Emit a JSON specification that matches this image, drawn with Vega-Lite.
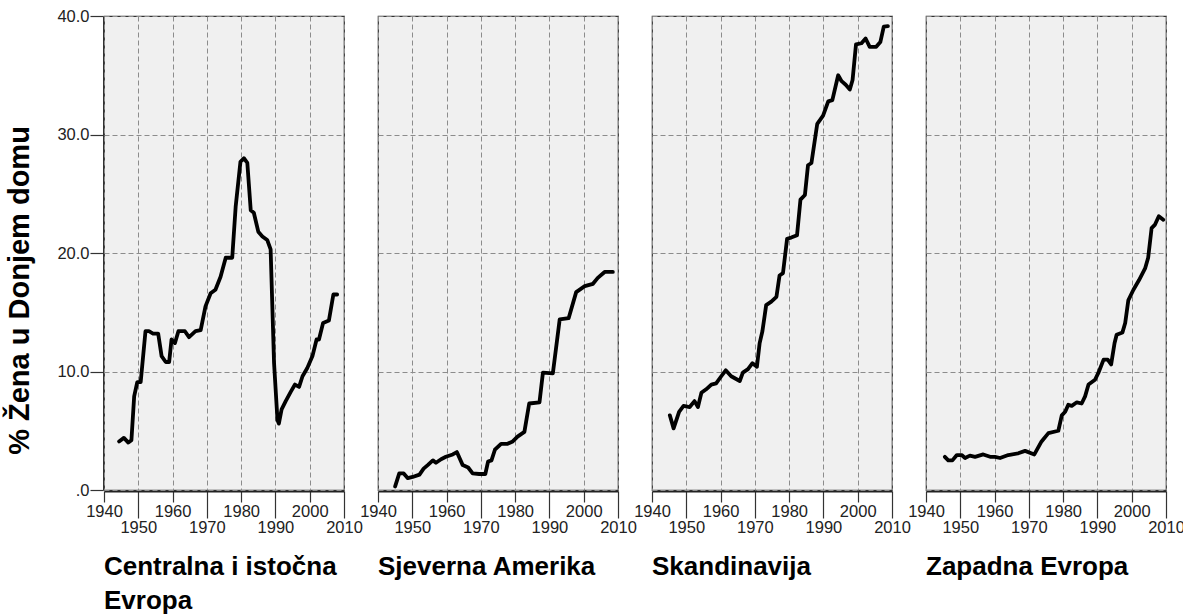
{
  "$schema": "https://vega.github.io/schema/vega-lite/v6.json",
  "background": "white",
  "padding": {"left": 5, "top": 8, "right": 5, "bottom": 0},
  "config": {
    "font": "Liberation Sans",
    "view": {"fill": "#f0f0f0", "stroke": "#333333", "strokeWidth": 1.2}
  },
  "data": {"values": [
    {"region": "Centralna i istočna Evropa", "year": 1944.4, "pct": 4.1},
    {"region": "Centralna i istočna Evropa", "year": 1945.8, "pct": 4.4},
    {"region": "Centralna i istočna Evropa", "year": 1947.1, "pct": 4.0},
    {"region": "Centralna i istočna Evropa", "year": 1948.0, "pct": 4.2},
    {"region": "Centralna i istočna Evropa", "year": 1948.8, "pct": 7.9},
    {"region": "Centralna i istočna Evropa", "year": 1949.7, "pct": 9.1},
    {"region": "Centralna i istočna Evropa", "year": 1950.7, "pct": 9.1},
    {"region": "Centralna i istočna Evropa", "year": 1952.1, "pct": 13.4},
    {"region": "Centralna i istočna Evropa", "year": 1953.1, "pct": 13.4},
    {"region": "Centralna i istočna Evropa", "year": 1954.3, "pct": 13.2},
    {"region": "Centralna i istočna Evropa", "year": 1955.8, "pct": 13.2},
    {"region": "Centralna i istočna Evropa", "year": 1956.8, "pct": 11.3},
    {"region": "Centralna i istočna Evropa", "year": 1958.0, "pct": 10.8},
    {"region": "Centralna i istočna Evropa", "year": 1959.0, "pct": 10.8},
    {"region": "Centralna i istočna Evropa", "year": 1959.7, "pct": 12.7},
    {"region": "Centralna i istočna Evropa", "year": 1960.7, "pct": 12.4},
    {"region": "Centralna i istočna Evropa", "year": 1961.7, "pct": 13.4},
    {"region": "Centralna i istočna Evropa", "year": 1963.6, "pct": 13.4},
    {"region": "Centralna i istočna Evropa", "year": 1964.8, "pct": 12.9},
    {"region": "Centralna i istočna Evropa", "year": 1966.7, "pct": 13.4},
    {"region": "Centralna i istočna Evropa", "year": 1968.2, "pct": 13.5},
    {"region": "Centralna i istočna Evropa", "year": 1969.6, "pct": 15.5},
    {"region": "Centralna i istočna Evropa", "year": 1971.1, "pct": 16.6},
    {"region": "Centralna i istočna Evropa", "year": 1972.5, "pct": 16.9},
    {"region": "Centralna i istočna Evropa", "year": 1974.0, "pct": 18.0},
    {"region": "Centralna i istočna Evropa", "year": 1975.5, "pct": 19.6},
    {"region": "Centralna i istočna Evropa", "year": 1977.4, "pct": 19.6},
    {"region": "Centralna i istočna Evropa", "year": 1978.4, "pct": 23.9},
    {"region": "Centralna i istočna Evropa", "year": 1979.8, "pct": 27.7},
    {"region": "Centralna i istočna Evropa", "year": 1980.8, "pct": 28.0},
    {"region": "Centralna i istočna Evropa", "year": 1981.8, "pct": 27.6},
    {"region": "Centralna i istočna Evropa", "year": 1982.8, "pct": 23.6},
    {"region": "Centralna i istočna Evropa", "year": 1983.7, "pct": 23.4},
    {"region": "Centralna i istočna Evropa", "year": 1985.0, "pct": 21.8},
    {"region": "Centralna i istočna Evropa", "year": 1986.2, "pct": 21.4},
    {"region": "Centralna i istočna Evropa", "year": 1987.6, "pct": 21.1},
    {"region": "Centralna i istočna Evropa", "year": 1988.6, "pct": 20.3},
    {"region": "Centralna i istočna Evropa", "year": 1989.6, "pct": 10.7},
    {"region": "Centralna i istočna Evropa", "year": 1990.6, "pct": 5.9},
    {"region": "Centralna i istočna Evropa", "year": 1991.0, "pct": 5.6},
    {"region": "Centralna i istočna Evropa", "year": 1991.8, "pct": 6.8},
    {"region": "Centralna i istočna Evropa", "year": 1993.0, "pct": 7.5},
    {"region": "Centralna i istočna Evropa", "year": 1994.5, "pct": 8.3},
    {"region": "Centralna i istočna Evropa", "year": 1995.7, "pct": 8.9},
    {"region": "Centralna i istočna Evropa", "year": 1996.9, "pct": 8.7},
    {"region": "Centralna i istočna Evropa", "year": 1997.9, "pct": 9.6},
    {"region": "Centralna i istočna Evropa", "year": 1999.3, "pct": 10.3},
    {"region": "Centralna i istočna Evropa", "year": 2000.8, "pct": 11.3},
    {"region": "Centralna i istočna Evropa", "year": 2002.0, "pct": 12.7},
    {"region": "Centralna i istočna Evropa", "year": 2002.7, "pct": 12.7},
    {"region": "Centralna i istočna Evropa", "year": 2003.9, "pct": 14.1},
    {"region": "Centralna i istočna Evropa", "year": 2005.6, "pct": 14.3},
    {"region": "Centralna i istočna Evropa", "year": 2006.9, "pct": 16.5},
    {"region": "Centralna i istočna Evropa", "year": 2008.0, "pct": 16.5},

    {"region": "Sjeverna Amerika", "year": 1945.0, "pct": 0.3},
    {"region": "Sjeverna Amerika", "year": 1946.2, "pct": 1.4},
    {"region": "Sjeverna Amerika", "year": 1947.5, "pct": 1.4},
    {"region": "Sjeverna Amerika", "year": 1948.7, "pct": 1.0},
    {"region": "Sjeverna Amerika", "year": 1950.1, "pct": 1.1},
    {"region": "Sjeverna Amerika", "year": 1952.1, "pct": 1.3},
    {"region": "Sjeverna Amerika", "year": 1953.3, "pct": 1.8},
    {"region": "Sjeverna Amerika", "year": 1954.5, "pct": 2.1},
    {"region": "Sjeverna Amerika", "year": 1956.0, "pct": 2.5},
    {"region": "Sjeverna Amerika", "year": 1956.9, "pct": 2.3},
    {"region": "Sjeverna Amerika", "year": 1958.4, "pct": 2.6},
    {"region": "Sjeverna Amerika", "year": 1959.8, "pct": 2.8},
    {"region": "Sjeverna Amerika", "year": 1961.8, "pct": 3.0},
    {"region": "Sjeverna Amerika", "year": 1963.0, "pct": 3.2},
    {"region": "Sjeverna Amerika", "year": 1964.7, "pct": 2.1},
    {"region": "Sjeverna Amerika", "year": 1966.3, "pct": 1.9},
    {"region": "Sjeverna Amerika", "year": 1967.6, "pct": 1.4},
    {"region": "Sjeverna Amerika", "year": 1969.5, "pct": 1.35},
    {"region": "Sjeverna Amerika", "year": 1971.3, "pct": 1.35},
    {"region": "Sjeverna Amerika", "year": 1972.1, "pct": 2.4},
    {"region": "Sjeverna Amerika", "year": 1973.1, "pct": 2.5},
    {"region": "Sjeverna Amerika", "year": 1974.1, "pct": 3.4},
    {"region": "Sjeverna Amerika", "year": 1975.9, "pct": 3.9},
    {"region": "Sjeverna Amerika", "year": 1977.8, "pct": 3.9},
    {"region": "Sjeverna Amerika", "year": 1979.3, "pct": 4.1},
    {"region": "Sjeverna Amerika", "year": 1980.7, "pct": 4.5},
    {"region": "Sjeverna Amerika", "year": 1982.7, "pct": 4.9},
    {"region": "Sjeverna Amerika", "year": 1984.1, "pct": 7.3},
    {"region": "Sjeverna Amerika", "year": 1987.1, "pct": 7.4},
    {"region": "Sjeverna Amerika", "year": 1988.1, "pct": 9.9},
    {"region": "Sjeverna Amerika", "year": 1991.0, "pct": 9.85},
    {"region": "Sjeverna Amerika", "year": 1993.0, "pct": 14.4},
    {"region": "Sjeverna Amerika", "year": 1995.6, "pct": 14.5},
    {"region": "Sjeverna Amerika", "year": 1997.8, "pct": 16.7},
    {"region": "Sjeverna Amerika", "year": 2000.3, "pct": 17.2},
    {"region": "Sjeverna Amerika", "year": 2002.7, "pct": 17.4},
    {"region": "Sjeverna Amerika", "year": 2004.1, "pct": 17.9},
    {"region": "Sjeverna Amerika", "year": 2006.1, "pct": 18.4},
    {"region": "Sjeverna Amerika", "year": 2008.5, "pct": 18.4},

    {"region": "Skandinavija", "year": 1945.2, "pct": 6.3},
    {"region": "Skandinavija", "year": 1946.3, "pct": 5.2},
    {"region": "Skandinavija", "year": 1947.9, "pct": 6.6},
    {"region": "Skandinavija", "year": 1949.2, "pct": 7.1},
    {"region": "Skandinavija", "year": 1951.0, "pct": 7.0},
    {"region": "Skandinavija", "year": 1952.4, "pct": 7.5},
    {"region": "Skandinavija", "year": 1953.4, "pct": 7.0},
    {"region": "Skandinavija", "year": 1954.4, "pct": 8.2},
    {"region": "Skandinavija", "year": 1955.8, "pct": 8.5},
    {"region": "Skandinavija", "year": 1957.3, "pct": 8.9},
    {"region": "Skandinavija", "year": 1958.7, "pct": 9.0},
    {"region": "Skandinavija", "year": 1960.2, "pct": 9.6},
    {"region": "Skandinavija", "year": 1961.5, "pct": 10.1},
    {"region": "Skandinavija", "year": 1963.1, "pct": 9.6},
    {"region": "Skandinavija", "year": 1965.6, "pct": 9.2},
    {"region": "Skandinavija", "year": 1966.5, "pct": 9.9},
    {"region": "Skandinavija", "year": 1968.0, "pct": 10.2},
    {"region": "Skandinavija", "year": 1969.3, "pct": 10.7},
    {"region": "Skandinavija", "year": 1970.6, "pct": 10.4},
    {"region": "Skandinavija", "year": 1971.4, "pct": 12.4},
    {"region": "Skandinavija", "year": 1972.2, "pct": 13.4},
    {"region": "Skandinavija", "year": 1973.3, "pct": 15.6},
    {"region": "Skandinavija", "year": 1974.8, "pct": 15.9},
    {"region": "Skandinavija", "year": 1976.3, "pct": 16.3},
    {"region": "Skandinavija", "year": 1977.2, "pct": 18.1},
    {"region": "Skandinavija", "year": 1978.2, "pct": 18.3},
    {"region": "Skandinavija", "year": 1979.4, "pct": 21.2},
    {"region": "Skandinavija", "year": 1980.6, "pct": 21.3},
    {"region": "Skandinavija", "year": 1982.3, "pct": 21.5},
    {"region": "Skandinavija", "year": 1983.3, "pct": 24.5},
    {"region": "Skandinavija", "year": 1984.6, "pct": 24.9},
    {"region": "Skandinavija", "year": 1985.5, "pct": 27.4},
    {"region": "Skandinavija", "year": 1986.5, "pct": 27.6},
    {"region": "Skandinavija", "year": 1988.2, "pct": 30.9},
    {"region": "Skandinavija", "year": 1989.9, "pct": 31.6},
    {"region": "Skandinavija", "year": 1991.4, "pct": 32.8},
    {"region": "Skandinavija", "year": 1992.6, "pct": 32.9},
    {"region": "Skandinavija", "year": 1994.3, "pct": 35.0},
    {"region": "Skandinavija", "year": 1995.3, "pct": 34.5},
    {"region": "Skandinavija", "year": 1996.5, "pct": 34.2},
    {"region": "Skandinavija", "year": 1997.7, "pct": 33.8},
    {"region": "Skandinavija", "year": 1998.5, "pct": 34.6},
    {"region": "Skandinavija", "year": 1999.5, "pct": 37.6},
    {"region": "Skandinavija", "year": 2001.1, "pct": 37.7},
    {"region": "Skandinavija", "year": 2002.3, "pct": 38.1},
    {"region": "Skandinavija", "year": 2003.5, "pct": 37.4},
    {"region": "Skandinavija", "year": 2005.4, "pct": 37.4},
    {"region": "Skandinavija", "year": 2006.6, "pct": 37.8},
    {"region": "Skandinavija", "year": 2007.6, "pct": 39.1},
    {"region": "Skandinavija", "year": 2008.8, "pct": 39.15},

    {"region": "Zapadna Evropa", "year": 1945.5, "pct": 2.8},
    {"region": "Zapadna Evropa", "year": 1946.5, "pct": 2.5},
    {"region": "Zapadna Evropa", "year": 1947.7, "pct": 2.5},
    {"region": "Zapadna Evropa", "year": 1949.0, "pct": 2.95},
    {"region": "Zapadna Evropa", "year": 1950.4, "pct": 2.95},
    {"region": "Zapadna Evropa", "year": 1951.4, "pct": 2.7},
    {"region": "Zapadna Evropa", "year": 1952.8, "pct": 2.9},
    {"region": "Zapadna Evropa", "year": 1954.3, "pct": 2.8},
    {"region": "Zapadna Evropa", "year": 1956.7, "pct": 3.0},
    {"region": "Zapadna Evropa", "year": 1958.7, "pct": 2.8},
    {"region": "Zapadna Evropa", "year": 1960.1, "pct": 2.8},
    {"region": "Zapadna Evropa", "year": 1961.6, "pct": 2.7},
    {"region": "Zapadna Evropa", "year": 1964.0, "pct": 2.95},
    {"region": "Zapadna Evropa", "year": 1966.9, "pct": 3.1},
    {"region": "Zapadna Evropa", "year": 1968.9, "pct": 3.3},
    {"region": "Zapadna Evropa", "year": 1971.6, "pct": 3.0},
    {"region": "Zapadna Evropa", "year": 1973.7, "pct": 4.1},
    {"region": "Zapadna Evropa", "year": 1975.7, "pct": 4.8},
    {"region": "Zapadna Evropa", "year": 1978.6, "pct": 5.0},
    {"region": "Zapadna Evropa", "year": 1979.6, "pct": 6.3},
    {"region": "Zapadna Evropa", "year": 1980.6, "pct": 6.6},
    {"region": "Zapadna Evropa", "year": 1981.5, "pct": 7.2},
    {"region": "Zapadna Evropa", "year": 1982.5, "pct": 7.1},
    {"region": "Zapadna Evropa", "year": 1984.0, "pct": 7.4},
    {"region": "Zapadna Evropa", "year": 1985.4, "pct": 7.3},
    {"region": "Zapadna Evropa", "year": 1986.4, "pct": 7.9},
    {"region": "Zapadna Evropa", "year": 1987.4, "pct": 8.9},
    {"region": "Zapadna Evropa", "year": 1989.3, "pct": 9.3},
    {"region": "Zapadna Evropa", "year": 1990.3, "pct": 9.9},
    {"region": "Zapadna Evropa", "year": 1991.8, "pct": 11.0},
    {"region": "Zapadna Evropa", "year": 1993.0, "pct": 11.0},
    {"region": "Zapadna Evropa", "year": 1994.0, "pct": 10.6},
    {"region": "Zapadna Evropa", "year": 1995.0, "pct": 12.4},
    {"region": "Zapadna Evropa", "year": 1995.6, "pct": 13.1},
    {"region": "Zapadna Evropa", "year": 1997.3, "pct": 13.3},
    {"region": "Zapadna Evropa", "year": 1998.1, "pct": 14.1},
    {"region": "Zapadna Evropa", "year": 1999.0, "pct": 16.0},
    {"region": "Zapadna Evropa", "year": 2000.5, "pct": 16.9},
    {"region": "Zapadna Evropa", "year": 2002.1, "pct": 17.7},
    {"region": "Zapadna Evropa", "year": 2003.9, "pct": 18.7},
    {"region": "Zapadna Evropa", "year": 2004.8, "pct": 19.6},
    {"region": "Zapadna Evropa", "year": 2005.8, "pct": 22.1},
    {"region": "Zapadna Evropa", "year": 2006.8, "pct": 22.4},
    {"region": "Zapadna Evropa", "year": 2007.9, "pct": 23.1},
    {"region": "Zapadna Evropa", "year": 2009.2, "pct": 22.8}
  ]},
  "facet": {
    "column": {
      "field": "region",
      "type": "nominal",
      "sort": ["Centralna i istočna Evropa", "Sjeverna Amerika", "Skandinavija", "Zapadna Evropa"],
      "header": {
        "title": null,
        "labelOrient": "bottom",
        "labelAnchor": "start",
        "labelAlign": "left",
        "labelBaseline": "top",
        "labelFont": "Liberation Sans",
        "labelFontSize": 26,
        "labelFontWeight": "bold",
        "labelColor": "#000000",
        "labelPadding": 18,
        "labelLineHeight": 34,
        "labelExpr": "datum.value == 'Centralna i istočna Evropa' ? ['Centralna i istočna', 'Evropa'] : datum.value"
      }
    }
  },
  "spacing": 32,
  "spec": {
    "width": 240,
    "height": 474,
    "mark": {"type": "line", "color": "#000000", "strokeWidth": 3.8, "strokeJoin": "round", "strokeCap": "round"},
    "encoding": {
      "x": {
        "field": "year",
        "type": "quantitative",
        "scale": {"domain": [1940, 2010], "nice": false, "zero": false},
        "axis": {
          "title": null,
          "values": [1940, 1950, 1960, 1970, 1980, 1990, 2000, 2010],
          "format": "d",
          "labelFontSize": 16.5,
          "labelColor": "#222222",
          "labelOverlap": false,
          "labelFlush": false,
          "labelBound": false,
          "labelPadding": 1,
          "labelBaseline": "top",
          "tickSize": {"condition": {"test": "datum.value % 20 == 10", "value": 27}, "value": 11},
          "tickColor": "#333333",
          "tickWidth": 1.2,
          "domainColor": "#222222",
          "domainWidth": 2.2,
          "grid": true,
          "gridColor": "#8c8c8c",
          "gridDash": [5, 3],
          "gridWidth": 1
        }
      },
      "y": {
        "field": "pct",
        "type": "quantitative",
        "scale": {"domain": [0, 40], "nice": false},
        "axis": {
          "title": "% Žena u Donjem domu",
          "titleFontSize": 29,
          "titleFontWeight": "bold",
          "titleColor": "#000000",
          "titlePadding": 22,
          "titleY": 274,
          "values": [0, 10, 20, 30, 40],
          "labelExpr": "datum.value == 0 ? '.0' : format(datum.value, '.1f')",
          "labelFontSize": 16.5,
          "labelColor": "#222222",
          "labelPadding": 1,
          "labelFlush": false,
          "tickSize": 13,
          "tickColor": "#333333",
          "tickWidth": 1.2,
          "domainColor": "#333333",
          "grid": true,
          "gridColor": "#8c8c8c",
          "gridDash": [5, 3],
          "gridWidth": 1
        }
      }
    }
  }
}
